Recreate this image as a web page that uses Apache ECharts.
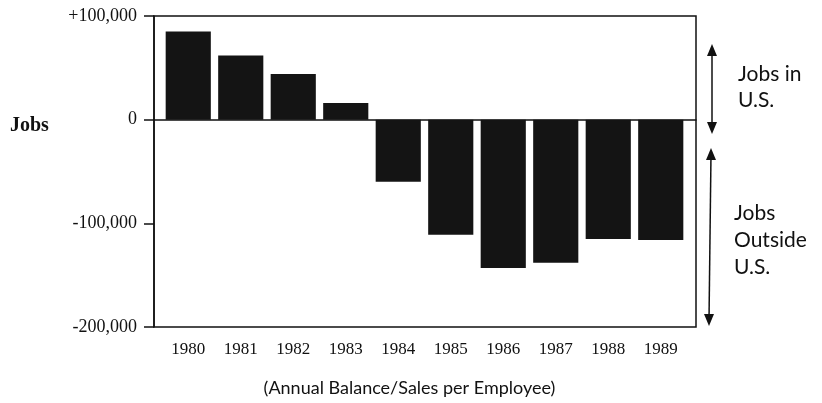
<!DOCTYPE html>
<html>
<head>
<meta charset="utf-8">
<script src="https://cdn.jsdelivr.net/npm/echarts@6/dist/echarts.min.js"></script>
<style>
  html, body { margin: 0; padding: 0; background: #fff; }
  #chart { width: 822px; height: 403px; }
</style>
</head>
<body>
<div id="chart"></div>
<script>
const years = ['1980', '1981', '1982', '1983', '1984', '1985', '1986', '1987', '1988', '1989']
const jobs = [85000, 62000, 44000, 16000, -60000, -111000, -143000, -138000, -115000, -116000]
const yTicks = [-200000, -100000, 0, 100000]

const serif = 'Liberation Serif'
const sans = 'Lato'
const ink = '#111'

const chart = echarts.init(document.getElementById('chart'))

function fmt(v) {
  const s = Math.abs(v).toLocaleString('en-US')
  if (v > 0) return '+' + s
  if (v < 0) return '-' + s
  return '0'
}

const yRange = { min: yTicks[0], max: yTicks[yTicks.length - 1], interval: 100000 }

chart.setOption({
  animation: false,
  grid: [
    // frame: box, y axis, zero line
    { left: 154, right: 126, top: 16, bottom: 76, outerBoundsMode: 'none', show: true, borderColor: ink, borderWidth: 1.5 },
    // bars sit slightly inset from the frame
    { left: 162, right: 135, top: 16, bottom: 76, outerBoundsMode: 'none' },
  ],
  xAxis: [{
    gridIndex: 0,
    type: 'value',
    min: 0,
    max: 1,
    axisLine: { onZero: true, lineStyle: { color: ink, width: 1.5 } },
    axisTick: { show: false },
    axisLabel: { show: false },
    splitLine: { show: false },
  }, {
    gridIndex: 1,
    type: 'category',
    data: years,
    name: '(Annual Balance/Sales per Employee)',
    nameLocation: 'middle',
    nameGap: 52,
    nameTextStyle: { fontFamily: sans, fontSize: 18, color: ink, padding: [0, 30, 0, 0] },
    axisLine: { show: false, onZero: false },
    axisTick: { alignWithLabel: true, length: 7, lineStyle: { color: ink, width: 1.5 } },
    axisLabel: { fontFamily: serif, fontSize: 17, color: ink, margin: 14 },
  }],
  yAxis: [{
    gridIndex: 0,
    type: 'value',
    ...yRange,
    splitLine: { show: false },
    axisLine: { show: true, lineStyle: { color: ink, width: 1.5 } },
    axisTick: { show: true, length: 10, lineStyle: { color: ink, width: 1.5 } },
    axisLabel: { fontFamily: serif, fontSize: 18, color: ink, margin: 17, formatter: fmt },
  }, {
    gridIndex: 1,
    type: 'value',
    ...yRange,
    show: false,
  }],
  series: [{
    type: 'bar',
    xAxisIndex: 1,
    yAxisIndex: 1,
    data: jobs,
    barCategoryGap: '14%',
    itemStyle: { color: '#141414' },
  }],
  graphic: [
    { type: 'text', left: 10, top: 116, style: { text: 'Jobs', font: 'bold 20px ' + serif, fill: ink } },
    // double-headed arrow: Jobs in U.S.
    { type: 'line', shape: { x1: 712, y1: 50, x2: 712, y2: 128 }, style: { stroke: ink, lineWidth: 1.5 } },
    { type: 'polygon', shape: { points: [[712, 44], [707, 56], [717, 56]] }, style: { fill: ink } },
    { type: 'polygon', shape: { points: [[712, 134], [707, 122], [717, 122]] }, style: { fill: ink } },
    // double-headed arrow: Jobs Outside U.S.
    { type: 'line', shape: { x1: 711, y1: 154, x2: 709, y2: 320 }, style: { stroke: ink, lineWidth: 1.5 } },
    { type: 'polygon', shape: { points: [[711, 148], [706, 160], [716, 160]] }, style: { fill: ink } },
    { type: 'polygon', shape: { points: [[709, 326], [704, 314], [714, 314]] }, style: { fill: ink } },
    { type: 'text', left: 738, top: 61, style: { text: 'Jobs in\nU.S.', font: '21px ' + sans, fill: ink, lineHeight: 26 } },
    { type: 'text', left: 734, top: 200, style: { text: 'Jobs\nOutside\nU.S.', font: '21px ' + sans, fill: ink, lineHeight: 27 } },
  ],
})
</script>
</body>
</html>
